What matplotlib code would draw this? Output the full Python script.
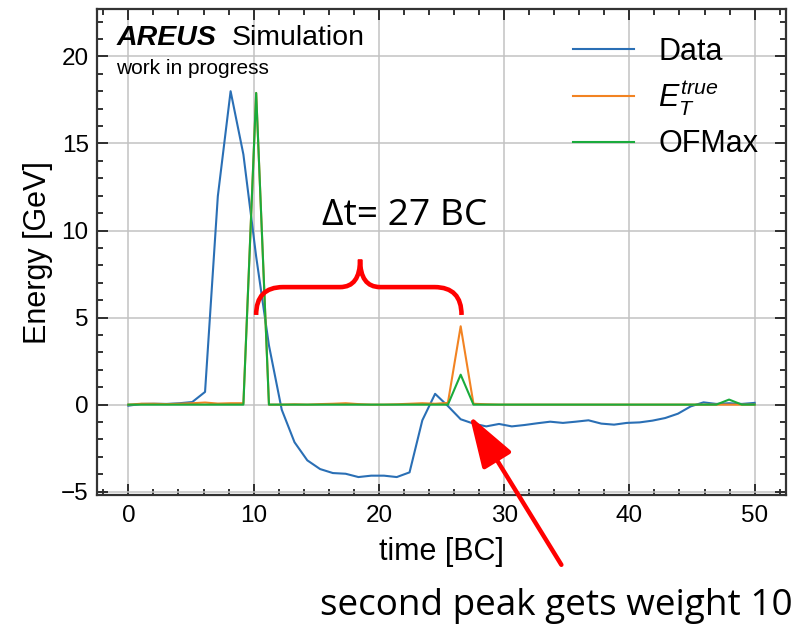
import numpy as np
import matplotlib
matplotlib.use("Agg")
import matplotlib.pyplot as plt
from matplotlib.path import Path
from matplotlib.patches import PathPatch
from matplotlib.ticker import MultipleLocator

# ---- values (50 samples over 0..50 BC) ----
n_samples = 50
data_energy = [-0.06, 0.04, 0.05, 0.04, 0.08, 0.15, 0.73, 11.97, 18.0, 14.37,
               8.5, 3.4, -0.29, -2.16, -3.2, -3.7, -3.93, -3.97, -4.16, -4.08,
               -4.08, -4.16, -3.89, -0.9, 0.62, -0.08, -0.84, -1.09, -1.25, -1.11,
               -1.25, -1.17, -1.07, -0.98, -1.05, -0.98, -0.9, -1.09, -1.15, -1.05,
               -1.02, -0.92, -0.77, -0.52, -0.1, 0.13, 0.04, 0.08, 0.04, 0.1]
et_true = [0.0, 0.05, 0.05, 0.03, 0.05, 0.08, 0.12, 0.06, 0.08, 0.08,
           17.9, 0.0, 0.0, 0.02, 0.0, 0.03, 0.05, 0.08, 0.03, 0.0,
           0.0, 0.02, 0.05, 0.08, 0.05, 0.1, 4.5, 0.05, 0.02, 0.0,
           0.0, 0.0, 0.0, 0.0, 0.0, 0.0, 0.0, 0.0, 0.0, 0.0,
           0.0, 0.0, 0.0, 0.0, 0.0, 0.0, 0.0, 0.0, 0.0, 0.0]
ofmax = [0.0] * 10 + [17.9] + [0.0] * 15 + [1.72] + [0.0] * 20 + [0.29] + [0.0] * 2

labels = ["Data", r"$E_T^{true}$", "OFMax"]
colors = ["#2a6fb5", "#f28322", "#1aab3c"]

# brace between the two pulses (data coords)
brace_x0, brace_x1, brace_tip = 10.2, 26.6, 18.5
brace_y_end, brace_y_mid, brace_y_tip = 5.15, 6.75, 8.33

plt.rcParams["font.family"] = ["Liberation Sans", "DejaVu Sans"]
plt.rcParams["mathtext.fontset"] = "custom"
plt.rcParams["mathtext.it"] = "Liberation Sans:italic"
plt.rcParams["mathtext.rm"] = "Liberation Sans"

t = np.linspace(0, 50, n_samples)

fig = plt.figure(figsize=(8.02, 6.26), dpi=100)
ax = fig.add_axes([0.121, 0.209, 0.859, 0.776])

for y, lab, c in zip([data_energy, et_true, ofmax], labels, colors):
    ax.plot(t, y, color=c, lw=1.5, label=lab)

ax.set_xlim(-2.5, 52.5)
ax.set_ylim(-5.2, 22.7)
ax.xaxis.set_major_locator(MultipleLocator(10))
ax.xaxis.set_minor_locator(MultipleLocator(2))
ax.yaxis.set_major_locator(MultipleLocator(5))
ax.yaxis.set_minor_locator(MultipleLocator(1))
ax.tick_params(which="both", direction="in", top=True, right=True,
               labelsize=17.5, width=1.3, color="#222222")
ax.tick_params(which="major", length=8)
ax.tick_params(which="minor", length=4)
ax.tick_params(axis="x", which="major", pad=7)
ax.tick_params(axis="y", which="major", pad=6)
for s in ax.spines.values():
    s.set_linewidth(1.6)
    s.set_color("#333333")
ax.grid(True, which="major", color="#c2c2c2", lw=1.1)
ax.set_axisbelow(True)

ax.set_xlabel("time [BC]", fontsize=22, labelpad=7)
ax.set_ylabel("Energy [GeV]", fontsize=22, labelpad=6)

leg = ax.legend(loc="upper right", fontsize=22, frameon=False,
                handlelength=2.0, handletextpad=0.8, labelspacing=0.38,
                borderaxespad=0.5)

ax.text(0.029, 0.927, "AREUS", transform=ax.transAxes, fontsize=20.5,
        fontweight="bold", fontstyle="italic", va="baseline")
ax.text(0.196, 0.927, "Simulation", transform=ax.transAxes, fontsize=20.5,
        va="baseline")
ax.text(0.028, 0.867, "work in progress", transform=ax.transAxes, fontsize=15,
        va="baseline")

# curly brace
rx = 2.15
rt = 1.6
verts = [(brace_x0, brace_y_end), (brace_x0, brace_y_mid), (brace_x0 + rx, brace_y_mid),
         (brace_tip - rt, brace_y_mid),
         (brace_tip, brace_y_mid), (brace_tip, brace_y_tip),
         (brace_tip, brace_y_mid), (brace_tip + rt, brace_y_mid),
         (brace_x1 - rx, brace_y_mid),
         (brace_x1, brace_y_mid), (brace_x1, brace_y_end)]
codes = [Path.MOVETO, Path.CURVE3, Path.CURVE3, Path.LINETO,
         Path.CURVE3, Path.CURVE3, Path.CURVE3, Path.CURVE3,
         Path.LINETO, Path.CURVE3, Path.CURVE3]
ax.add_patch(PathPatch(Path(verts, codes), fill=False, edgecolor="red", lw=3.3,
                       capstyle="butt", zorder=5))

ax.text(15.45, 10.34, "\u0394t= 27 BC", fontsize=26.8, family=["Open Sans", "DejaVu Sans"],
        va="baseline", zorder=6)

ax.annotate("", xy=(27.24, -0.63), xytext=(34.57, -9.2), annotation_clip=False,
            arrowprops=dict(arrowstyle="-|>,head_length=0.8,head_width=0.26",
                            color="red", lw=3.2, mutation_scale=40,
                            shrinkA=0, shrinkB=0), zorder=7)

fig.text(0.399, 0.0176, "second peak gets weight 10", fontsize=26.6,
         family=["Open Sans", "DejaVu Sans"], va="baseline")

fig.savefig("out.png", dpi=100)
